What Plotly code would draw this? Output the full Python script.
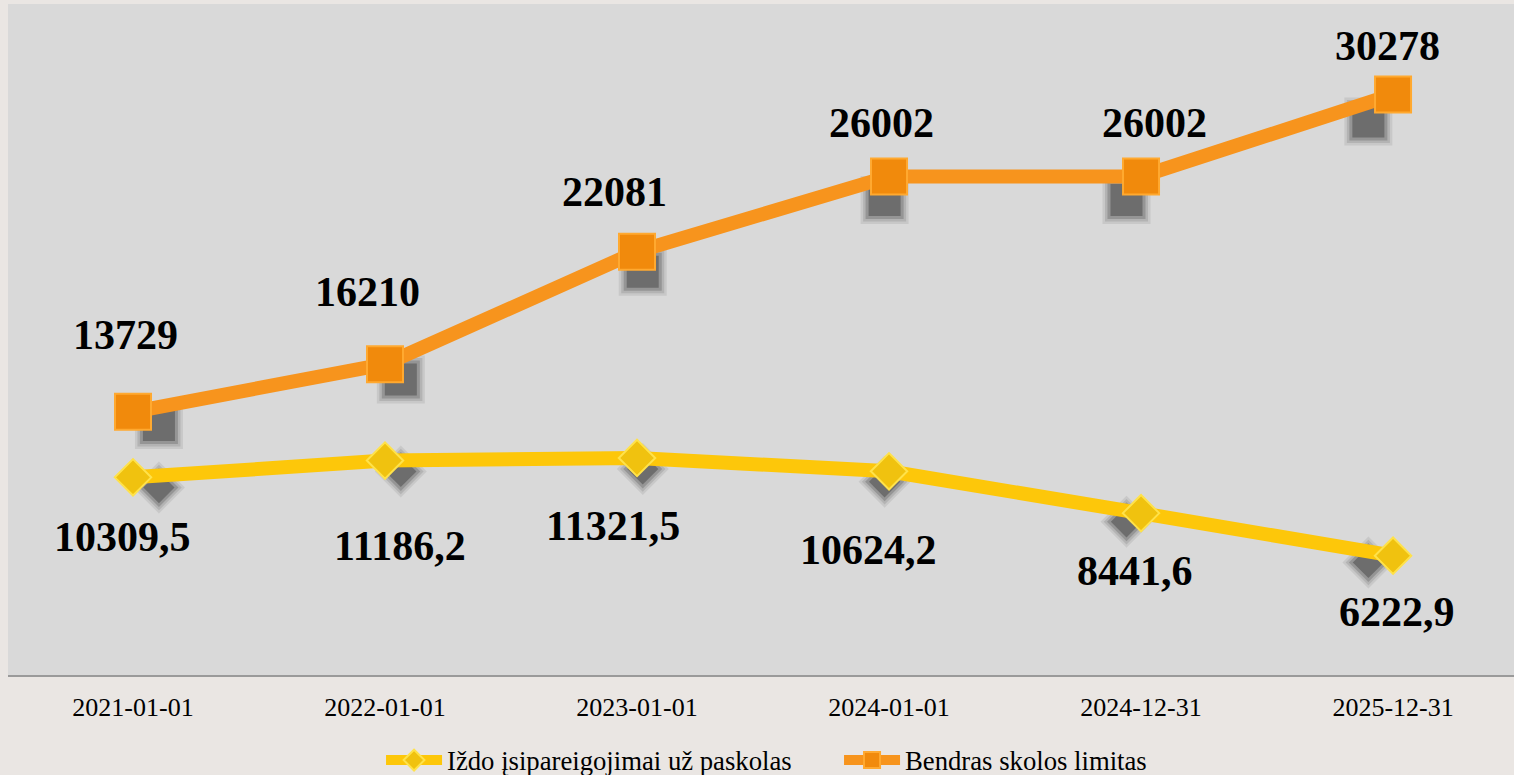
import plotly.graph_objects as go

# ---- data ----
categories = ["2021-01-01", "2022-01-01", "2023-01-01", "2024-01-01", "2024-12-31", "2025-12-31"]
izdo_name = "Iždo įsipareigojimai už paskolas"
izdo_values = [10309.5, 11186.2, 11321.5, 10624.2, 8441.6, 6222.9]
limit_name = "Bendras skolos limitas"
limit_values = [13729, 16210, 22081, 26002, 26002, 30278]

# ---- styles ----
ORANGE_LINE = "#f7941d"
ORANGE_FILL = "#f18a0c"
ORANGE_EDGE = "#ffa930"
YELLOW_LINE = "#fdc70a"
YELLOW_FILL = "#f0c20f"
YELLOW_EDGE = "#ffe24a"
FONT = "Liberation Serif, Times New Roman, serif"

# label offsets in pixels (style only)
limit_dx = [-8, -18, -23, -8, 13, -6]
limit_dy = [77, 72, 60, 54, 54, 49]
izdo_dx = [-11, 15, -24, -21, -6, 4]
izdo_dy = [-60, -85, -68, -79, -58, -56]


def fmt(v):
    if float(v).is_integer():
        return str(int(v))
    return f"{v:.1f}".replace(".", ",")


fig = go.Figure()

# soft shadows (base axes, drawn beneath the series)
for extra, alpha in [(12, 0.10), (7, 0.15), (2, 0.25), (-4, 0.45)]:
    fig.add_trace(go.Scatter(
        x=categories, y=limit_values, mode="markers", showlegend=False, hoverinfo="skip",
        marker=dict(symbol="square", size=36 + extra, color=f"rgba(60,60,60,{alpha})", line=dict(width=0)),
        xaxis="x", yaxis="y"))
    fig.add_trace(go.Scatter(
        x=categories, y=izdo_values, mode="markers", showlegend=False, hoverinfo="skip",
        marker=dict(symbol="diamond", size=28 + extra, color=f"rgba(60,60,60,{alpha})", line=dict(width=0)),
        xaxis="x", yaxis="y"))

# main series (overlay axes, drawn on top)
fig.add_trace(go.Scatter(
    x=categories, y=izdo_values, name=izdo_name, mode="lines+markers",
    line=dict(color=YELLOW_LINE, width=14),
    marker=dict(symbol="diamond", size=28, color=YELLOW_FILL, line=dict(color=YELLOW_EDGE, width=2)),
    xaxis="x2", yaxis="y2"))
fig.add_trace(go.Scatter(
    x=categories, y=limit_values, name=limit_name, mode="lines+markers",
    line=dict(color=ORANGE_LINE, width=14),
    marker=dict(symbol="square", size=36, color=ORANGE_FILL, line=dict(color=ORANGE_EDGE, width=2)),
    xaxis="x2", yaxis="y2"))

annotations = []
for c, v, dx, dy in zip(categories, limit_values, limit_dx, limit_dy):
    annotations.append(dict(x=c, y=v, xref="x2", yref="y2", text=f"<b>{fmt(v)}</b>", showarrow=False,
                            xshift=dx, yshift=dy, font=dict(family=FONT, size=42, color="black")))
for c, v, dx, dy in zip(categories, izdo_values, izdo_dx, izdo_dy):
    annotations.append(dict(x=c, y=v, xref="x2", yref="y2", text=f"<b>{fmt(v)}</b>", showarrow=False,
                            xshift=dx, yshift=dy, font=dict(family=FONT, size=42, color="black")))

fig.update_layout(
    width=1514, height=775,
    margin=dict(l=8, r=0, t=4, b=100, autoexpand=False),
    paper_bgcolor="#eae6e3",
    plot_bgcolor="#d9d9d9",
    showlegend=True,
    legend=dict(orientation="h", x=0.2477, xanchor="left", y=-0.127, yanchor="middle",
                font=dict(family=FONT, size=26.7, color="black"), bgcolor="rgba(0,0,0,0)",
                itemwidth=56, entrywidth=387, entrywidthmode="pixels"),
    xaxis=dict(type="category", range=[-0.624, 5.602], visible=False, fixedrange=True),
    yaxis=dict(range=[82, 36693], visible=False, fixedrange=True),
    xaxis2=dict(type="category", overlaying="x", range=[-0.496, 5.48], showgrid=False,
                showline=True, linecolor="#9a9a9a", linewidth=2, ticks="",
                tickfont=dict(family=FONT, size=26, color="black"), ticklabelstandoff=8),
    yaxis2=dict(overlaying="y", range=[0, 35000], visible=False, showgrid=False, zeroline=False),
    annotations=annotations,
)

fig.write_html("out.html", config={"displayModeBar": False},
               post_script="document.body.style.margin='0';")
